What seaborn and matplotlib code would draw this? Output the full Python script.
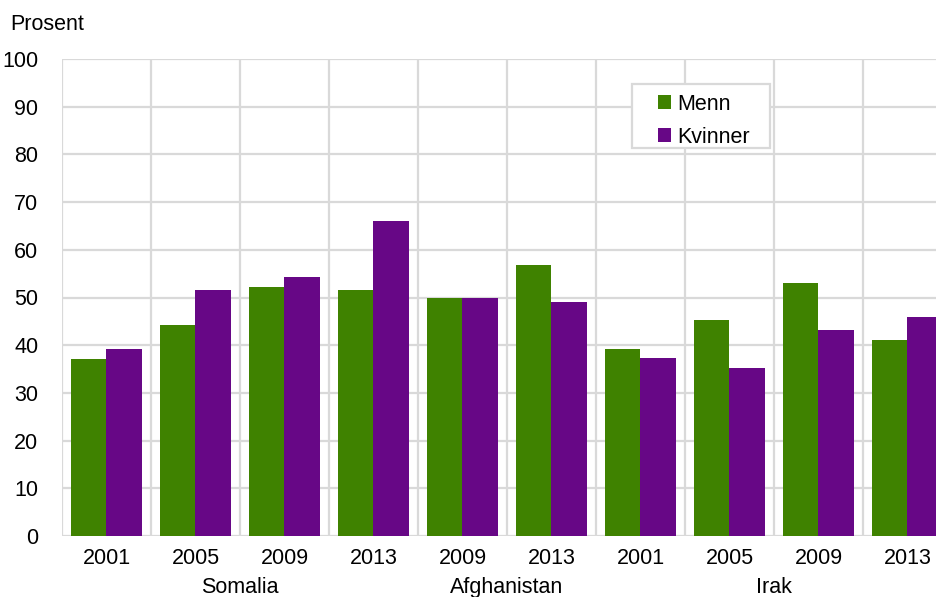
import matplotlib
matplotlib.use("Agg")
import matplotlib.pyplot as plt
import matplotlib.patches as mpatches
import seaborn as sns
import pandas as pd

countries = ["Somalia", "Somalia", "Somalia", "Somalia",
             "Afghanistan", "Afghanistan",
             "Irak", "Irak", "Irak", "Irak"]
years = ["2001", "2005", "2009", "2013", "2009", "2013",
         "2001", "2005", "2009", "2013"]
menn = [37.2, 44.3, 52.2, 51.5, 50.0, 56.9, 39.3, 45.2, 53.1, 41.0]
kvinner = [39.3, 51.5, 54.3, 66.1, 50.0, 49.0, 37.3, 35.2, 43.1, 46.0]
groups = ["Somalia", "Afghanistan", "Irak"]
series = ["Menn", "Kvinner"]
colors = ["#3f8200", "#670786"]

keys = [f"{c} {y}" for c, y in zip(countries, years)]
df = pd.DataFrame({
    "key": keys * 2,
    "value": menn + kvinner,
    "serie": [series[0]] * len(keys) + [series[1]] * len(keys),
})

sns.set_theme(style="white")
plt.rcParams["font.family"] = ["Liberation Sans", "DejaVu Sans"]
plt.rcParams["text.color"] = "black"
plt.rcParams["xtick.color"] = "black"
plt.rcParams["ytick.color"] = "black"

FS = 15.5
W, H = 937, 597
fig = plt.figure(figsize=(W / 100, H / 100), dpi=100)
left_px, right_px, top_px, bot_px = 62, 937, 59, 536
ax = fig.add_axes([left_px / W, 1 - bot_px / H, (right_px - left_px) / W,
                   (bot_px - top_px) / H])

sns.barplot(data=df, x="key", y="value", hue="serie", order=keys,
            hue_order=series, palette=colors, width=0.8, saturation=1,
            linewidth=0, ax=ax, legend=True)

cat_px = 89.0
ax.set_xlim(-0.5, len(keys) - 0.5 - (952 - 937) / cat_px)
ax.set_ylim(0, 100)
ax.set_yticks(range(0, 101, 10))
ax.set_yticklabels([str(v) for v in range(0, 101, 10)], fontsize=FS)
ax.set_xticks(range(len(keys)))
ax.set_xticklabels(years, fontsize=FS)
ax.tick_params(axis="both", length=0, colors="black")
ax.tick_params(axis="y", pad=17)
ax.tick_params(axis="x", pad=9)
ax.set_xlabel("")
ax.set_ylabel("")
for s in ax.spines.values():
    s.set_visible(False)

gc = "#d9d9d9"
for v in range(0, 101, 10):
    ax.axhline(v, color=gc, lw=1.6, zorder=0)
for k in range(len(keys) + 1):
    ax.axvline(k - 0.5, color=gc, lw=1.6, zorder=0)
ax.set_axisbelow(True)

# group labels
for g in groups:
    idx = [i for i, c in enumerate(countries) if c == g]
    center = (idx[0] + idx[-1]) / 2
    ax.text(center, -0.108, g, transform=ax.get_xaxis_transform(),
            ha="center", va="center", fontsize=FS)

fig.text(10 / W, 1 - 24 / H, "Prosent", ha="left", va="center", fontsize=FS)

# legend box (frame drawn separately for wider padding)
bx0, bx1, by0, by1 = 632, 770, 84, 148
ax.add_patch(mpatches.Rectangle(
    (bx0 / W, 1 - by1 / H), (bx1 - bx0) / W, (by1 - by0) / H,
    transform=fig.transFigure, facecolor="white", edgecolor=gc, lw=1.6,
    zorder=5, clip_on=False))
leg = ax.legend(loc="upper left", bbox_to_anchor=(647 / W, 1 - 83 / H),
                bbox_transform=fig.transFigure, borderaxespad=0,
                fontsize=FS, frameon=False,
                handlelength=0.6, handleheight=0.6, handletextpad=0.3,
                borderpad=0.5, labelspacing=0.55, title=None)
leg.set_zorder(6)

fig.savefig("out.png", dpi=100)
